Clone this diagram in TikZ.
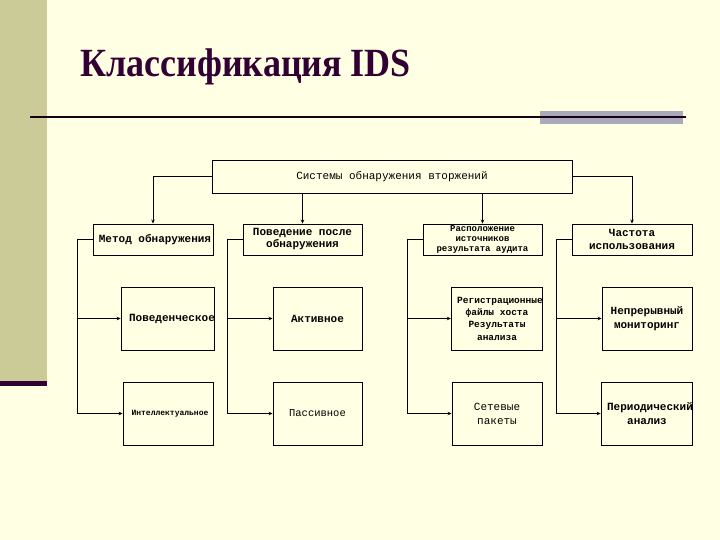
\documentclass[tikz,border=0pt]{standalone}
\usepackage{fontspec}
\setmainfont{Liberation Serif}
\newfontfamily\boxfont{Liberation Mono}
\usetikzlibrary{arrows.meta}
\definecolor{bgc}{HTML}{FFFFE3}
\definecolor{barc}{HTML}{CBCB97}
\definecolor{titc}{HTML}{330033}
\definecolor{grayc}{HTML}{A9A9B9}
\tikzset{
  bx/.style={draw=black, line width=0.9pt, fill=bgc, inner sep=0pt, font=\boxfont\fontsize{11}{12}\selectfont, align=center},
  conn/.style={line width=0.9pt, draw=black},
  arr/.style={conn, -{Stealth[length=4pt,width=3.5pt]}}
}
\begin{document}
\begin{tikzpicture}[x=1pt,y=-1pt]
\useasboundingbox (0,0) rectangle (720,540);
\fill[bgc] (0,0) rectangle (720,540);
\fill[barc] (0,0) rectangle (47,381);
\fill[titc] (0,381) rectangle (47,386);
\fill[grayc] (540,111) rectangle (683,124);
\draw[line width=2.5pt, titc!50!black] (30,117) -- (686,117);
\node[anchor=base west, inner sep=0pt, text=titc, font=\bfseries\fontsize{40}{44}\selectfont] (title) at (80,77) {\scalebox{0.9}[1]{Классификация IDS}};

% top
\node[bx, minimum width=360pt, minimum height=33pt] (top) at (392,176.5) {Системы обнаружения вторжений};
% level 2
\node[bx, minimum width=120pt, minimum height=31pt, font=\boxfont\bfseries\fontsize{11}{12}\selectfont] (m) at (153,239.5) {\hspace*{4pt}Метод обнаружения};
\node[bx, minimum width=119pt, minimum height=31pt, font=\boxfont\bfseries\fontsize{11}{12}\selectfont] (p) at (302.5,239.5) {Поведение после\\обнаружения};
\node[bx, minimum width=119pt, minimum height=31pt, font=\boxfont\bfseries\fontsize{9}{10}\selectfont] (r) at (482.5,239.5) {Расположение\\источников\\результата аудита};
\node[bx, minimum width=120pt, minimum height=31pt, font=\boxfont\bfseries\fontsize{11}{13}\selectfont] (c) at (632,239.5) {Частота\\использования};
% level 3
\node[bx, minimum width=90pt, minimum height=63pt, font=\boxfont\bfseries\fontsize{11}{12}\selectfont] (b1) at (168,318.5) {\hspace*{8pt}Поведенческое};
\node[bx, minimum width=89pt, minimum height=63pt, font=\boxfont\bfseries\fontsize{11}{12}\selectfont] (b2) at (317.5,318.5) {Активное};
\node[bx, minimum width=90pt, minimum height=63pt, font=\boxfont\bfseries\fontsize{9.5}{12.3}\selectfont] (b3) at (497,318.5) {\hspace*{6pt}Регистрационные\\файлы хоста\\Результаты\\анализа};
\node[bx, minimum width=90pt, minimum height=63pt, font=\boxfont\bfseries\fontsize{11}{14}\selectfont] (b4) at (647,318.5) {Непрерывный\\мониторинг};
% level 4
\node[bx, minimum width=90pt, minimum height=63pt, font=\boxfont\bfseries\fontsize{8}{10}\selectfont] (i1) at (168,413.5) {\hspace*{4pt}Интеллектуальное};
\node[bx, minimum width=89pt, minimum height=63pt, font=\boxfont\fontsize{10.5}{12}\selectfont] (i2) at (317.5,413.5) {Пассивное};
\node[bx, minimum width=90pt, minimum height=63pt, font=\boxfont\fontsize{11}{14}\selectfont] (i3) at (497,413.5) {Сетевые\\пакеты};
\node[bx, minimum width=90pt, minimum height=63pt, font=\boxfont\bfseries\fontsize{11}{14}\selectfont] (i4) at (647,413.5) {\hspace*{6pt}Периодический\\анализ};

% connectors from top
\draw[arr] (top.west) -| (m.north);
\draw[arr] (top.east) -| (c.north);
\draw[arr] (top.south -| p.north) -- (p.north);
\draw[arr] (top.south -| r.north) -- (r.north);

% level 2 -> children
\foreach \a/\u/\v in {m/b1/i1, p/b2/i2, r/b3/i3, c/b4/i4}{
  \draw[arr] (\a.west) -- ++(-15,0) |- (\u.west);
  \draw[arr] (\a.west) -- ++(-15,0) |- (\v.west);
}
\end{tikzpicture}
\end{document}
